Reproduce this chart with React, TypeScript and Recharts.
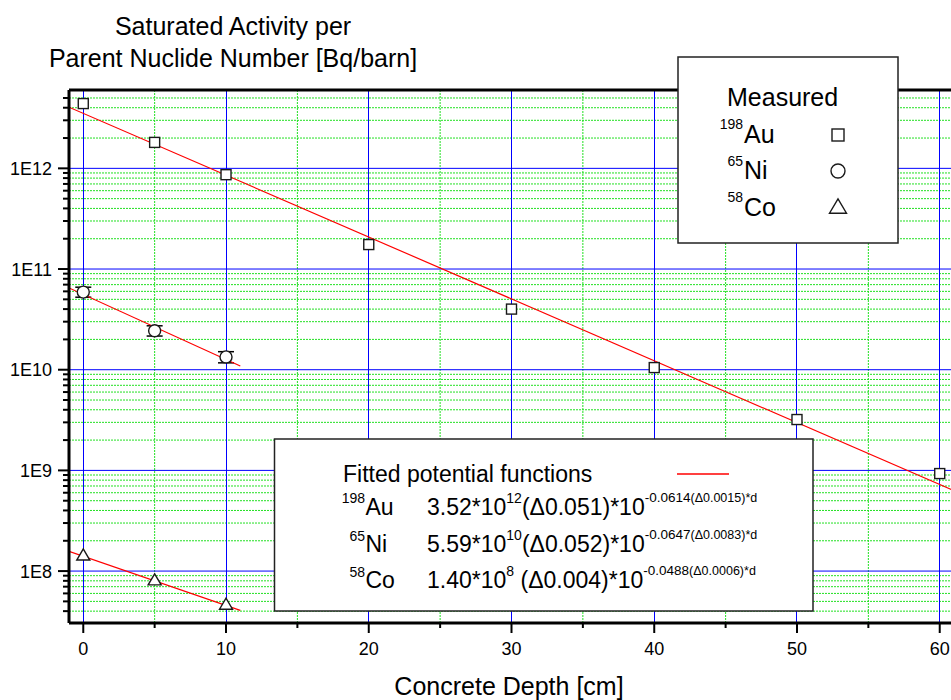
import React from "react";
import {
  ComposedChart,
  XAxis,
  YAxis,
  Line,
  Scatter,
  ErrorBar,
  CartesianGrid,
} from "recharts";

const FONT = "'Liberation Sans', Arial, Helvetica, sans-serif";

// measured saturated activities
const auDepth = [0, 5, 10, 20, 30, 40, 50, 60];
const auActivity = [4.4e12, 1.81e12, 8.65e11, 1.75e11, 4.0e10, 1.05e10, 3.2e9, 9.3e8];
const niDepth = [0, 5, 10];
const niActivity = [5.9e10, 2.44e10, 1.34e10];
const niErrLow = [0.65e10, 0.28e10, 0.17e10];
const niErrHigh = [0.7e10, 0.29e10, 0.17e10];
const coDepth = [0, 5, 10];
const coActivity = [1.46e8, 8.27e7, 4.74e7];

// fitted lines, end points only (straight on the log axis)
const auFitDepth = [-1, 61];
const auFitValue = [4.05e12, 6.3e8];
const niFitDepth = [-1, 11];
const niFitValue = [6.49e10, 1.09e10];
const coFitDepth = [-1, 11];
const coFitValue = [1.57e8, 4.07e7];

// axes
const xDomain = [-1, 61];
const yDomain = [3.05e7, 6e12];
const xMajorTicks = [0, 10, 20, 30, 40, 50, 60];
const xMinorTicks = [5, 15, 25, 35, 45, 55];
const yMajorTicks = [1e8, 1e9, 1e10, 1e11, 1e12];
const yMajorLabels = ["1E8", "1E9", "1E10", "1E11", "1E12"];
const decades = [1e7, 1e8, 1e9, 1e10, 1e11, 1e12];
const mantissas = [2, 3, 4, 5, 6, 7, 8, 9];
const yMinorTicks = decades
  .flatMap((d) => mantissas.map((m) => m * d))
  .filter((v) => v > yDomain[0] * 1.05 && v < yDomain[1] * 0.99);

const toRows = (xs: number[], ys: number[]) =>
  xs.map((x, i) => ({ depth: x, value: ys[i] }));

const auPoints = toRows(auDepth, auActivity);
const niPoints = niDepth.map((x, i) => ({
  depth: x,
  value: niActivity[i],
  err: [niErrLow[i], niErrHigh[i]],
}));
const coPoints = toRows(coDepth, coActivity);
const auFit = toRows(auFitDepth, auFitValue);
const niFit = toRows(niFitDepth, niFitValue);
const coFit = toRows(coFitDepth, coFitValue);

const MARK = "#1a1a1a";

const Square = ({ cx, cy, s = 10 }: any) => (
  <rect x={cx - s / 2} y={cy - s / 2} width={s} height={s} fill="#fff" stroke={MARK} strokeWidth={1.4} />
);
const Circle = ({ cx, cy, r = 6 }: any) => (
  <circle cx={cx} cy={cy} r={r} fill="#fff" stroke={MARK} strokeWidth={1.4} />
);
const Triangle = ({ cx, cy, w = 14 }: any) => {
  const h = w * 0.85;
  return (
    <polygon
      points={`${cx - w / 2},${cy + h / 2} ${cx + w / 2},${cy + h / 2} ${cx},${cy - h / 2}`}
      fill="#fff"
      stroke={MARK}
      strokeWidth={1.4}
    />
  );
};

const YTick = ({ x, y, payload }: any) => {
  const idx = yMajorTicks.indexOf(payload.value);
  const major = idx >= 0;
  return (
    <g>
      <line x1={x - (major ? 11 : 6)} x2={x} y1={y} y2={y} stroke="#000" strokeWidth={2} />
      {major && (
        <text x={x - 17} y={y} dy="0.36em" textAnchor="end" fontSize={18} fontFamily={FONT} fill="#000">
          {yMajorLabels[idx]}
        </text>
      )}
    </g>
  );
};

const XTick = ({ x, y, payload }: any) => {
  const major = xMajorTicks.includes(payload.value);
  return (
    <g>
      <line x1={x} x2={x} y1={y} y2={y + (major ? 10 : 5)} stroke="#000" strokeWidth={2} />
      {major && (
        <text x={x} y={y + 32} textAnchor="middle" fontSize={18} fontFamily={FONT} fill="#000">
          {payload.value}
        </text>
      )}
    </g>
  );
};

function Formula({ y, coef, pow, err, slope, slopeErr }: any) {
  return (
    <text x={427} y={y} fontSize={23} fontFamily={FONT} fill="#000">
      {coef}*10<tspan dy={-12} fontSize={14}>{pow}</tspan>
      <tspan dy={12} fontSize={23}>{err}*10</tspan>
      <tspan dy={-13} fontSize={13.5}>{slope}</tspan>
      <tspan fontSize={12.5}>{slopeErr}*d</tspan>
    </text>
  );
}

function Overlay() {
  const t = { fontFamily: FONT, fill: "#000" } as const;
  return (
    <svg width={951} height={700} style={{ position: "absolute", left: 0, top: 0, pointerEvents: "none" }}>
      {/* y axis title */}
      <text x={233} y={35} textAnchor="middle" fontSize={25} {...t}>Saturated Activity per</text>
      <text x={233} y={67} textAnchor="middle" fontSize={25} {...t}>Parent Nuclide Number [Bq/barn]</text>
      {/* x axis title */}
      <text x={509} y={695} textAnchor="middle" fontSize={25} {...t}>Concrete Depth [cm]</text>

      {/* measured legend */}
      <rect x={678} y={57} width={220} height={186} fill="#fff" stroke="#222" strokeWidth={1.5} />
      <text x={727} y={106} fontSize={25} {...t}>Measured</text>
      <text x={743} y={129} textAnchor="end" fontSize={14} {...t}>198</text>
      <text x={744} y={143} fontSize={25} {...t}>Au</text>
      <text x={743} y={166} textAnchor="end" fontSize={14} {...t}>65</text>
      <text x={744} y={179} fontSize={25} {...t}>Ni</text>
      <text x={743} y={202} textAnchor="end" fontSize={14} {...t}>58</text>
      <text x={744} y={216} fontSize={25} {...t}>Co</text>
      <Square cx={838} cy={135} s={12} />
      <Circle cx={838} cy={171} r={7} />
      <Triangle cx={838} cy={206} w={17} />

      {/* fit legend */}
      <rect x={274.5} y={439} width={538.5} height={172} fill="#fff" stroke="#222" strokeWidth={1.5} />
      <text x={343} y={482} fontSize={23} {...t}>Fitted potential functions</text>
      <line x1={677} x2={729} y1={474} y2={474} stroke="#ff0000" strokeWidth={1.5} />

      <text x={365} y={503} textAnchor="end" fontSize={14} {...t}>198</text>
      <text x={365.5} y={515} fontSize={23} {...t}>Au</text>
      <Formula y={515} coef="3.52" pow="12" err="(Δ0.051)" slope="-0.0614" slopeErr="(Δ0.0015)" />

      <text x={365} y={541} textAnchor="end" fontSize={14} {...t}>65</text>
      <text x={365.5} y={552} fontSize={23} {...t}>Ni</text>
      <Formula y={552} coef="5.59" pow="10" err="(Δ0.052)" slope="-0.0647" slopeErr="(Δ0.0083)" />

      <text x={365} y={577} textAnchor="end" fontSize={14} {...t}>58</text>
      <text x={365.5} y={588} fontSize={23} {...t}>Co</text>
      <Formula y={588} coef="1.40" pow="8" err={"\u00a0(Δ0.004)"} slope="-0.0488" slopeErr="(Δ0.0006)" />
    </svg>
  );
}

export default function App() {
  return (
    <div style={{ position: "absolute", left: 0, top: 0, width: 951, height: 700, overflow: "hidden", background: "#fff" }}>
      <ComposedChart width={954} height={700} margin={{ top: 60, right: 0, bottom: 0, left: 0 }}>
        {/* minor grid: green dotted */}
        <CartesianGrid
          stroke="#22e022"
          strokeDasharray="2 1"
          strokeWidth={1}
          verticalValues={xMinorTicks}
          horizontalValues={yMinorTicks}
        />
        {/* major grid: blue, decades soft, depth lines crisp */}
        <CartesianGrid stroke="#0000ff" strokeWidth={1} vertical={false} horizontalValues={yMajorTicks} />
        <CartesianGrid
          stroke="#0000ff"
          strokeWidth={1}
          shapeRendering="crispEdges"
          horizontal={false}
          verticalValues={xMajorTicks}
        />
        <XAxis
          dataKey="depth"
          type="number"
          domain={xDomain}
          allowDataOverflow
          ticks={[...xMajorTicks, ...xMinorTicks].sort((a, b) => a - b)}
          interval={0}
          height={77}
          tickSize={0}
          tickMargin={0}
          tickLine={false}
          tick={<XTick />}
          axisLine={{ stroke: "#000", strokeWidth: 3 }}
        />
        <XAxis
          xAxisId="top"
          orientation="top"
          type="number"
          domain={xDomain}
          allowDataOverflow
          ticks={xMajorTicks}
          height={30}
          tick={false}
          tickLine={false}
          axisLine={{ stroke: "#000", strokeWidth: 3 }}
        />
        <YAxis
          dataKey="value"
          scale="log"
          type="number"
          domain={yDomain}
          allowDataOverflow
          ticks={[...yMajorTicks, ...yMinorTicks]}
          interval={0}
          width={69}
          tickSize={0}
          tickMargin={0}
          tickLine={false}
          tick={<YTick />}
          axisLine={{ stroke: "#000", strokeWidth: 3 }}
        />
        <Scatter data={auPoints} shape={<Square />} isAnimationActive={false} />
        <Scatter data={niPoints} shape={<Circle />} isAnimationActive={false}>
          <ErrorBar dataKey="err" direction="y" width={8} stroke="#000" strokeWidth={1.5} />
        </Scatter>
        <Scatter data={coPoints} shape={<Triangle w={13} />} isAnimationActive={false} />
        <Line data={auFit} dataKey="value" type="linear" stroke="#ff0000" strokeWidth={1.2} dot={false} isAnimationActive={false} />
        <Line data={niFit} dataKey="value" type="linear" stroke="#ff0000" strokeWidth={1.2} dot={false} isAnimationActive={false} />
        <Line data={coFit} dataKey="value" type="linear" stroke="#ff0000" strokeWidth={1.2} dot={false} isAnimationActive={false} />
      </ComposedChart>
      <Overlay />
    </div>
  );
}
